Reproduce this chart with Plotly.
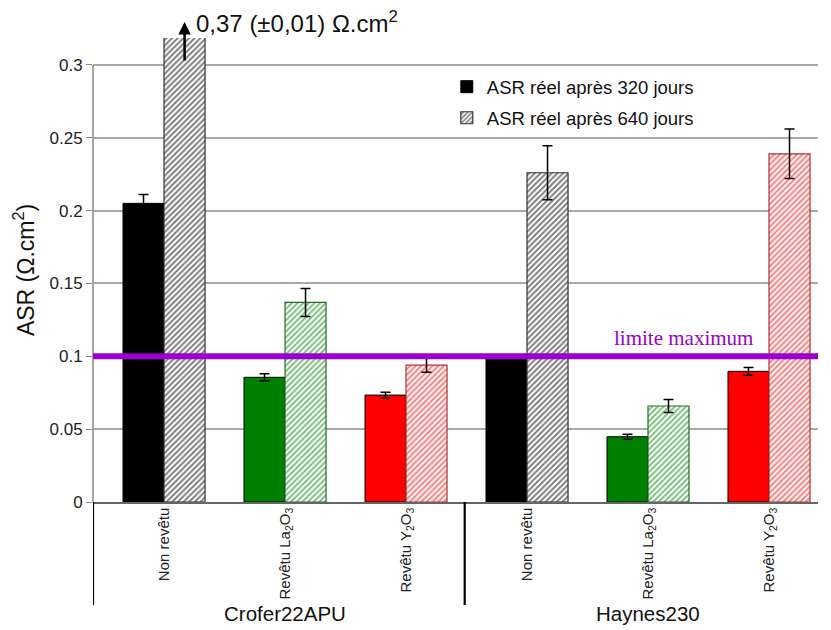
import plotly.graph_objects as go

categories = ["Non revêtu", "Revêtu La<sub>2</sub>O<sub>3</sub>", "Revêtu Y<sub>2</sub>O<sub>3</sub>",
              "Non revêtu", "Revêtu La<sub>2</sub>O<sub>3</sub>", "Revêtu Y<sub>2</sub>O<sub>3</sub>"]
groups = ["Crofer22APU", "Haynes230"]
asr_320 = [0.205, 0.0856, 0.0734, 0.099, 0.0448, 0.0897]
err_320 = [0.006, 0.0024, 0.002, 0.002, 0.0017, 0.0027]
asr_640 = [0.37, 0.137, 0.094, 0.226, 0.0659, 0.239]
err_640 = [0.01, 0.0096, 0.005, 0.0185, 0.0045, 0.017]
bar_colors = ["#000000", "#008000", "#ff0000", "#000000", "#008000", "#ff0000"]
series_names = ["ASR réel après 320 jours", "ASR réel après 640 jours"]
limit_value = 0.1
y_ticks = [0, 0.05, 0.1, 0.15, 0.2, 0.25, 0.3]
y_ticktext = ["0", "0.05", "0.1", "0.15", "0.2", "0.25", "0.3"]

xpos = list(range(len(categories)))
FONT = "Liberation Sans, Arial, sans-serif"

fig = go.Figure()
fig.add_trace(go.Bar(
    x=xpos, y=asr_320, name=series_names[0],
    marker=dict(color=bar_colors, line=dict(color="#000000", width=1)),
    error_y=dict(type="data", array=err_320, color="#000000", thickness=1.5, width=5),
    legendgroup="a",
))
fig.add_trace(go.Bar(
    x=xpos, y=asr_640, name=series_names[1],
    marker=dict(color="white",
                line=dict(color=["#333333", "#2a6a2a", "#b03030", "#333333", "#2a6a2a", "#b03030"], width=1.2),
                pattern=dict(shape="/", fgcolor=bar_colors, bgcolor="white", size=4, solidity=0.5)),
    error_y=dict(type="data", array=err_640, color="#000000", thickness=1.5, width=5),
    legendgroup="b",
))

shapes = []
# y-axis line (0 to 0.3)
shapes.append(dict(type="line", xref="paper", yref="y", x0=0, x1=0, y0=0, y1=0.3,
                   line=dict(color="#888888", width=1.5)))
# separators below axis
for xv in [-0.587, 2.485]:
    shapes.append(dict(type="line", xref="x", yref="paper", x0=xv, x1=xv, y0=0, y1=-0.222,
                       line=dict(color="#000000", width=2.2)))
# limit line
shapes.append(dict(type="line", xref="paper", yref="y", x0=0, x1=1, y0=limit_value, y1=limit_value,
                   line=dict(color="#9a00d0", width=6), layer="above"))

annotations = [
    dict(x=1, y=0, xref="x", yref="paper", yshift=-125, text=groups[0], showarrow=False,
         font=dict(family=FONT, size=20.5, color="#111111")),
    dict(x=4, y=0, xref="x", yref="paper", yshift=-125, text=groups[1], showarrow=False,
         font=dict(family=FONT, size=20.5, color="#111111")),
    dict(x=4.29, y=0.1126, xref="x", yref="y", text="limite maximum", showarrow=False,
         font=dict(family="Liberation Serif, Times New Roman, serif", size=21, color="#9a00c8")),
    dict(x=0.17, y=1.0345, xref="x", yref="paper", text="", showarrow=True, ax=0, ay=40,
         arrowhead=2, arrowsize=1, arrowwidth=2.5, arrowcolor="#000000"),
    dict(x=0.25, y=1.034, xref="x", yref="paper", xanchor="left", yanchor="middle",
         text="0,37 (±0,01) Ω.cm<sup>2</sup>", showarrow=False,
         font=dict(family=FONT, size=24, color="#111111")),
]

fig.update_layout(
    width=823, height=622,
    margin=dict(l=85, r=13, t=30, b=128, autoexpand=False),
    paper_bgcolor="white", plot_bgcolor="white",
    barmode="group", bargap=0.322, bargroupgap=0,
    font=dict(family=FONT, color="#222222"),
    showlegend=True,
    legend=dict(x=0.488, y=0.935, xanchor="left", yanchor="top", bgcolor="rgba(0,0,0,0)",
                font=dict(family=FONT, size=18.5, color="#111111"),
                traceorder="grouped", tracegroupgap=4, itemwidth=30),
    shapes=shapes, annotations=annotations,
)
fig.update_xaxes(range=[-0.587, 5.405], tickmode="array", tickvals=xpos, ticktext=categories,
                 tickangle=-90, tickfont=dict(family=FONT, size=15, color="#222222"),
                 ticklabelstandoff=-2,
                 showline=True, linecolor="#666666", linewidth=1.5, showgrid=False,
                 ticks="", zeroline=False, automargin=False)
fig.update_yaxes(range=[0, 0.3185], tickmode="array", tickvals=y_ticks, ticktext=y_ticktext,
                 tickfont=dict(family=FONT, size=17, color="#222222"),
                 ticks="outside", ticklen=6, tickcolor="#888888",
                 showgrid=True, gridcolor="#a8a8a8", gridwidth=1.5, zeroline=False,
                 showline=False, automargin=False,
                 title=dict(text="ASR (Ω.cm<sup>2</sup>)", font=dict(family=FONT, size=23, color="#111111"),
                            standoff=8))

fig.write_html("out.html")
